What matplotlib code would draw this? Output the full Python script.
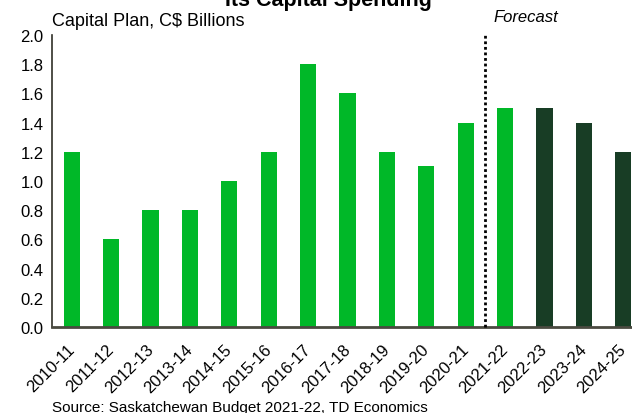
import matplotlib
matplotlib.use("Agg")
import matplotlib.pyplot as plt
from matplotlib.transforms import ScaledTranslation

# ── Data ──────────────────────────────────────────────────────────────────────
years = ["2010-11", "2011-12", "2012-13", "2013-14", "2014-15", "2015-16",
         "2016-17", "2017-18", "2018-19", "2019-20", "2020-21", "2021-22",
         "2022-23", "2023-24", "2024-25"]
capital_plan = [1.2, 0.6, 0.8, 0.8, 1.0, 1.2, 1.8, 1.6, 1.2, 1.1, 1.4, 1.5,
                1.5, 1.4, 1.2]
is_forecast = [False] * 12 + [True] * 3
forecast_split = 10.5

LIGHT = "#00B828"
DARK = "#183D25"

plt.rcParams["font.family"] = ["Liberation Sans", "DejaVu Sans"]

fig = plt.figure(figsize=(6.32, 4.14), dpi=100)
ax = fig.add_axes([52 / 632, 86 / 414, 591 / 632, 292 / 414])

x = list(range(len(years)))
colors = [DARK if f else LIGHT for f in is_forecast]
ax.bar(x, capital_plan, width=0.41, color=colors, zorder=2)

ax.plot([forecast_split, forecast_split], [0, 2.0], color="black",
        linestyle=(0, (1, 1)), linewidth=2, zorder=3, clip_on=False)

ax.set_xlim(-0.5, len(years) - 0.5)
ax.set_ylim(0, 2.0)
ax.set_yticks([i / 10 for i in range(0, 21, 2)])
ax.set_yticklabels([f"{i / 10:.1f}" for i in range(0, 21, 2)], fontsize=12)
ax.set_xticks(x)
ax.set_xticklabels(years, rotation=45, ha="right", va="top",
                   rotation_mode="anchor", fontsize=12)
ax.tick_params(axis="both", length=0, pad=6)
ax.tick_params(axis="x", pad=8)

# nudge the slanted year labels a little left and down
shift = ScaledTranslation(-5 / 100, -3 / 100, fig.dpi_scale_trans)
for lbl in ax.get_xticklabels():
    lbl.set_transform(lbl.get_transform() + shift)

for side in ["top", "right"]:
    ax.spines[side].set_visible(False)
ax.spines["left"].set_color("#303028")
ax.spines["left"].set_linewidth(1.2)
ax.spines["bottom"].set_color("#4a4a40")
ax.spines["bottom"].set_linewidth(2)

# ── Text ──────────────────────────────────────────────────────────────────────
fig.text(328 / 632, 1 - 6 / 414, "Its Capital Spending", ha="center",
         va="baseline", fontsize=15.5, fontweight="bold")
fig.text(52 / 632, 1 - 26 / 414, "Capital Plan, C$ Billions", ha="left",
         va="baseline", fontsize=13)
fig.text(493 / 632, 1 - 22 / 414, "Forecast", ha="left", va="baseline",
         fontsize=12, style="italic")
fig.text(52 / 632, 1 - 412 / 414, "Source: Saskatchewan Budget 2021-22, TD Economics",
         ha="left", va="baseline", fontsize=11)

fig.savefig("out.png", dpi=100)
